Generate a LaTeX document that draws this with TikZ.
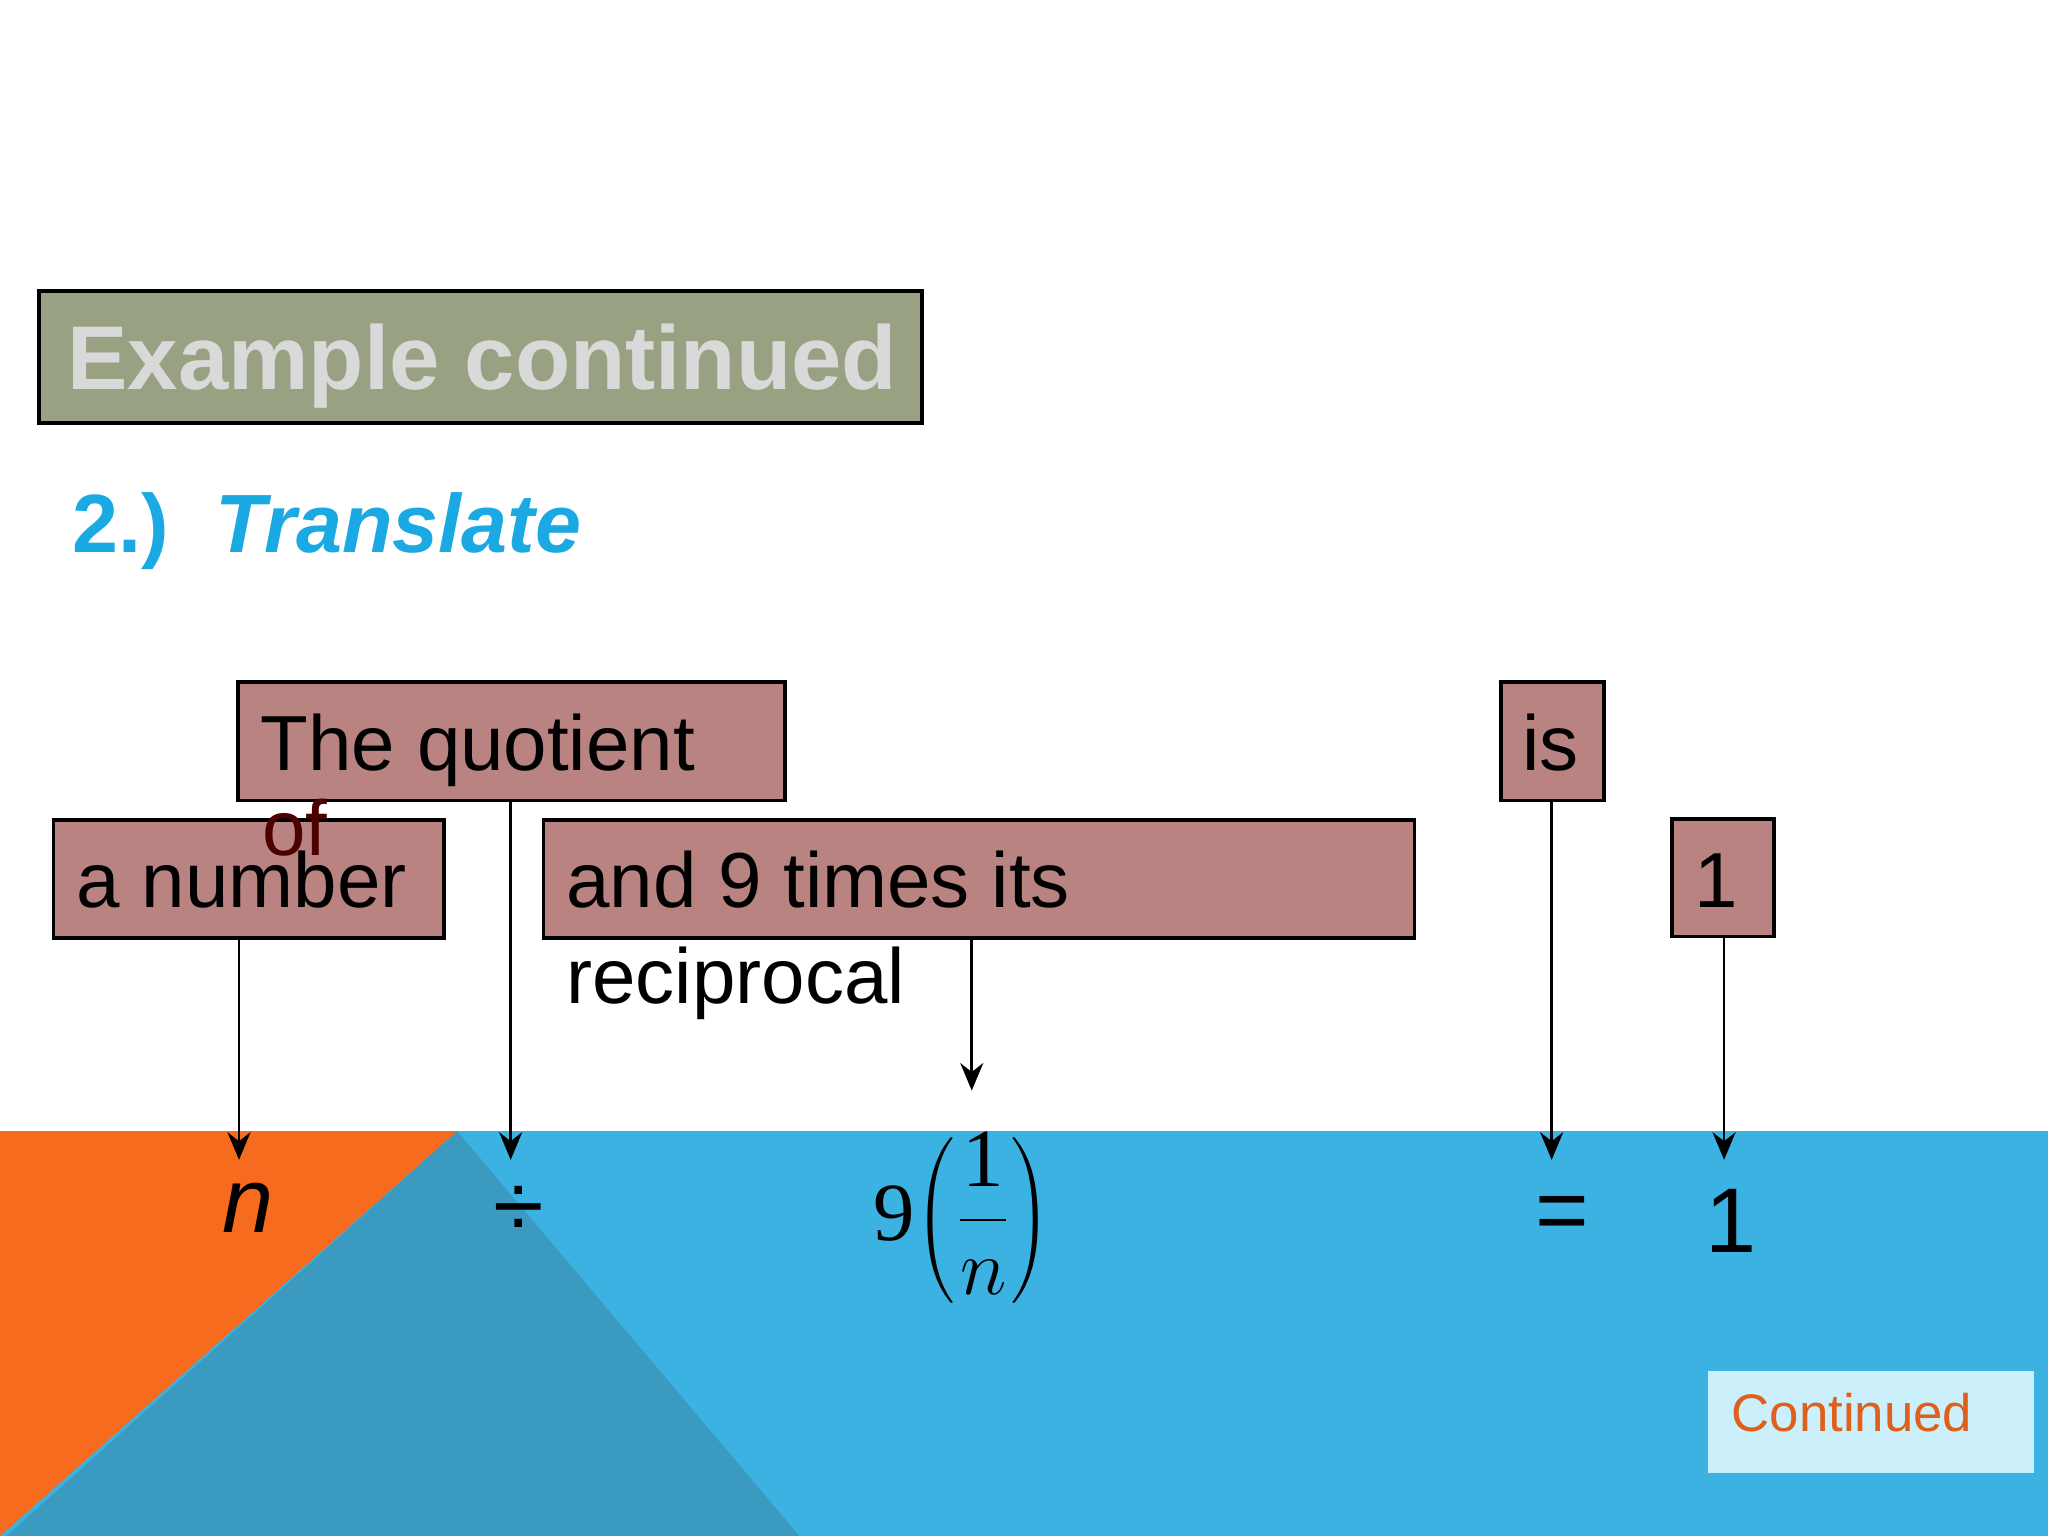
\documentclass[tikz,border=0pt]{standalone}
\usepackage{fontspec}
\setmainfont{Liberation Sans}
\newfontfamily\timesf{Liberation Serif}
\usetikzlibrary{arrows.meta}
\definecolor{boxr}{HTML}{B88380}
\definecolor{bandblue}{HTML}{3BB2E2}
\definecolor{darkteal}{HTML}{3A9ABF}
\definecolor{orng}{HTML}{F76B1E}
\definecolor{titleg}{HTML}{98A283}
\definecolor{cyant}{HTML}{1AA9E3}
\begin{document}
\begin{tikzpicture}[x=0.01cm,y=-0.01cm,
  wbox/.style={draw=black,fill=boxr,line width=0.8pt},
  wtxt/.style={anchor=base west,inner sep=0,font=\fontsize{17}{20}\selectfont},
  arr/.style={-{Stealth[length=6pt,width=5pt]},line width=0.6pt}]
\useasboundingbox (0,0) rectangle (1568,1176);
\fill[white] (0,0) rectangle (1568,1176);
\fill[bandblue] (0,866) rectangle (1568,1176);
\fill[orng] (0,866) -- (350,866) -- (0,1176) -- cycle;
\fill[darkteal] (350,866) -- (612,1176) -- (5,1176) -- cycle;
% title
\draw[fill=titleg,line width=0.8pt] (30,223) rectangle (706,324);
\node[anchor=base west,inner sep=0,text=black!15,font=\bfseries\fontsize{19.7}{24}\selectfont] (title) at (51,298) {Example continued};
\node[anchor=base west,inner sep=0,text=cyant,font=\bfseries\fontsize{18}{22}\selectfont] (sub) at (55,423) {2.)\ \ \textit{Translate}};
% boxes
\draw[wbox] (182,522) rectangle (601,613);
\node[wtxt] (tq) at (199,590) {The quotient};
\draw[wbox] (41,628) rectangle (340,718);
\node[wtxt] (an) at (58,695) {a number};
\node[wtxt,text=black!50!red!60!black] (of) at (200,655) {of};
\draw[wbox] (416,628) rectangle (1083,718);
\node[wtxt] (nt) at (433,695) {and 9 times its};
\node[wtxt] (rc) at (433,768) {reciprocal};
\draw[wbox] (1149,522) rectangle (1228,613);
\node[wtxt] (is) at (1165,590) {is};
\draw[wbox] (1280,627) rectangle (1358,717);
\node[wtxt] (one) at (1297,695) {1};
% bottom expressions
\node[inner sep=0,font=\itshape\fontsize{20}{24}\selectfont] (n) at (190,925) {n};
\node[inner sep=0,font=\fontsize{20}{24}\selectfont] (div) at (397,928) {÷};
\node[inner sep=0,font=\fontsize{18}{20}\selectfont] (frac) at (737,932) {\timesf 9$\left(\displaystyle\frac{\hbox{\timesf 1}}{n}\right)$};
\node[inner sep=0,font=\fontsize{20}{24}\selectfont] (eq) at (1196,933) {=};
\node[inner sep=0,font=\fontsize{20}{24}\selectfont] (r1) at (1325,935) {1};
% arrows
\coordinate (a1) at (183,718); \coordinate (b1) at (183,888);
\coordinate (a2) at (391,613); \coordinate (b2) at (391,888);
\coordinate (a3) at (744,718); \coordinate (b3) at (744,835);
\coordinate (a4) at (1188,613); \coordinate (b4) at (1188,888);
\coordinate (a5) at (1320,717); \coordinate (b5) at (1320,888);
\draw[arr] (a1) -- (b1);
\draw[arr] (a2) -- (b2);
\draw[arr] (a3) -- (b3);
\draw[arr] (a4) -- (b4);
\draw[arr] (a5) -- (b5);
% continued
\fill[cyan!20] (1308,1050) rectangle (1557,1128);
\node[anchor=base west,inner sep=0,text=orng!90!black,font=\fontsize{11.5}{14}\selectfont] (cont) at (1325,1096) {Continued};
\end{tikzpicture}
\end{document}
